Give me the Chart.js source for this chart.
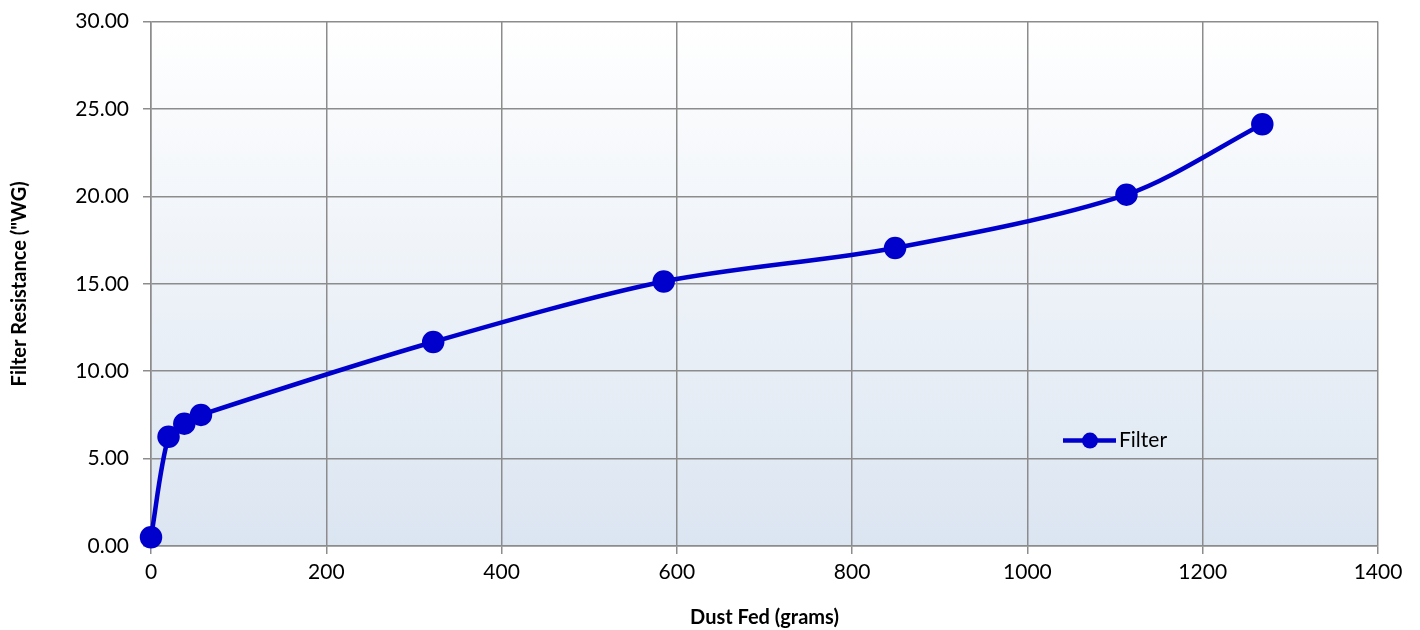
<!DOCTYPE html>
<html>
<head>
<meta charset="utf-8">
<script src="https://cdn.jsdelivr.net/npm/chart.js@4/dist/chart.umd.min.js"></script>
<style>
  html, body { margin: 0; padding: 0; background: #fff; overflow: hidden; }
  #wrap { width: 1420px; height: 635px; margin-top: -5px; }
</style>
</head>
<body>
<div id="wrap"><canvas id="chart"></canvas></div>
<script>
// values
const dustFed = [0, 20, 38, 57, 322, 585, 849, 1113, 1268];
const resistance = [0.5, 6.25, 7.0, 7.5, 11.67, 15.13, 17.05, 20.1, 24.13];
const xTicks = [0, 200, 400, 600, 800, 1000, 1200, 1400];
const yTicks = [0, 5, 10, 15, 20, 25, 30];

const blue = '#0000cc';
const gridColor = '#8c8c8c';
const font = 'Lato, "Open Sans", sans-serif';

// plot area gradient (white at top, pale blue at bottom)
const plotBg = {
  id: 'plotBg',
  beforeDraw(chart) {
    const { ctx, chartArea: a } = chart;
    const g = ctx.createLinearGradient(0, a.top, 0, a.bottom);
    g.addColorStop(0, '#ffffff');
    g.addColorStop(1, '#dbe5f1');
    ctx.save();
    ctx.fillStyle = g;
    ctx.fillRect(a.left, a.top, a.right - a.left, a.bottom - a.top);
    ctx.restore();
  }
};

// legend sitting inside the plot
const innerLegend = {
  id: 'innerLegend',
  afterDatasetsDraw(chart) {
    const { ctx, chartArea: a } = chart;
    const ds = chart.data.datasets[0];
    const x = 1063, y = a.top + 419;
    ctx.save();
    ctx.strokeStyle = ds.borderColor;
    ctx.lineWidth = 4.5;
    ctx.beginPath();
    ctx.moveTo(x, y);
    ctx.lineTo(x + 53, y);
    ctx.stroke();
    ctx.fillStyle = ds.borderColor;
    ctx.beginPath();
    ctx.arc(x + 27, y, 8, 0, Math.PI * 2);
    ctx.fill();
    ctx.fillStyle = '#000';
    ctx.font = '21px ' + font;
    ctx.textBaseline = 'middle';
    ctx.fillText(ds.label, x + 56, y);
    ctx.restore();
  }
};

new Chart(document.getElementById('chart'), {
  type: 'line',
  data: {
    datasets: [{
      label: 'Filter',
      data: dustFed.map((d, i) => ({ x: d, y: resistance[i] })),
      borderColor: blue,
      backgroundColor: blue,
      pointBackgroundColor: blue,
      pointBorderColor: blue,
      borderWidth: 4.5,
      pointRadius: 9,
      tension: 0.3,
      clip: false
    }]
  },
  options: {
    responsive: true,
    maintainAspectRatio: false,
    animation: false,
    layout: { padding: { top: 13, right: 42, left: 0, bottom: 0 } },
    plugins: {
      legend: { display: false },
      tooltip: { enabled: false }
    },
    scales: {
      x: {
        type: 'linear',
        min: 0, max: 1400,
        afterBuildTicks(s) { s.ticks = xTicks.map(v => ({ value: v })); },
        afterFit(s) { s.height = 84; },
        grid: { color: gridColor, lineWidth: 1.5, tickLength: 8 },
        border: { color: gridColor, width: 1.5 },
        ticks: {
          color: '#000', font: { family: font, size: 21 }, padding: 6,
          callback: v => String(v)
        },
        title: {
          display: true, text: 'Dust Fed (grams)', color: '#000',
          font: { family: font, size: 20, weight: 'bold' }, padding: { top: 15, bottom: 0 }
        }
      },
      y: {
        min: 0, max: 30,
        afterBuildTicks(s) { s.ticks = yTicks.map(v => ({ value: v })); },
        afterFit(s) { s.width = 151; },
        grid: { color: gridColor, lineWidth: 1.5, tickLength: 8 },
        border: { color: gridColor, width: 1.5 },
        ticks: {
          color: '#000', font: { family: font, size: 21 }, padding: 14,
          callback: v => v.toFixed(2)
        },
        title: {
          display: true, text: 'Filter Resistance ("WG)', color: '#000',
          font: { family: font, size: 20, weight: 'bold' }, padding: { top: 8, bottom: 6 }
        }
      }
    }
  },
  plugins: [plotBg, innerLegend]
});
</script>
</body>
</html>
